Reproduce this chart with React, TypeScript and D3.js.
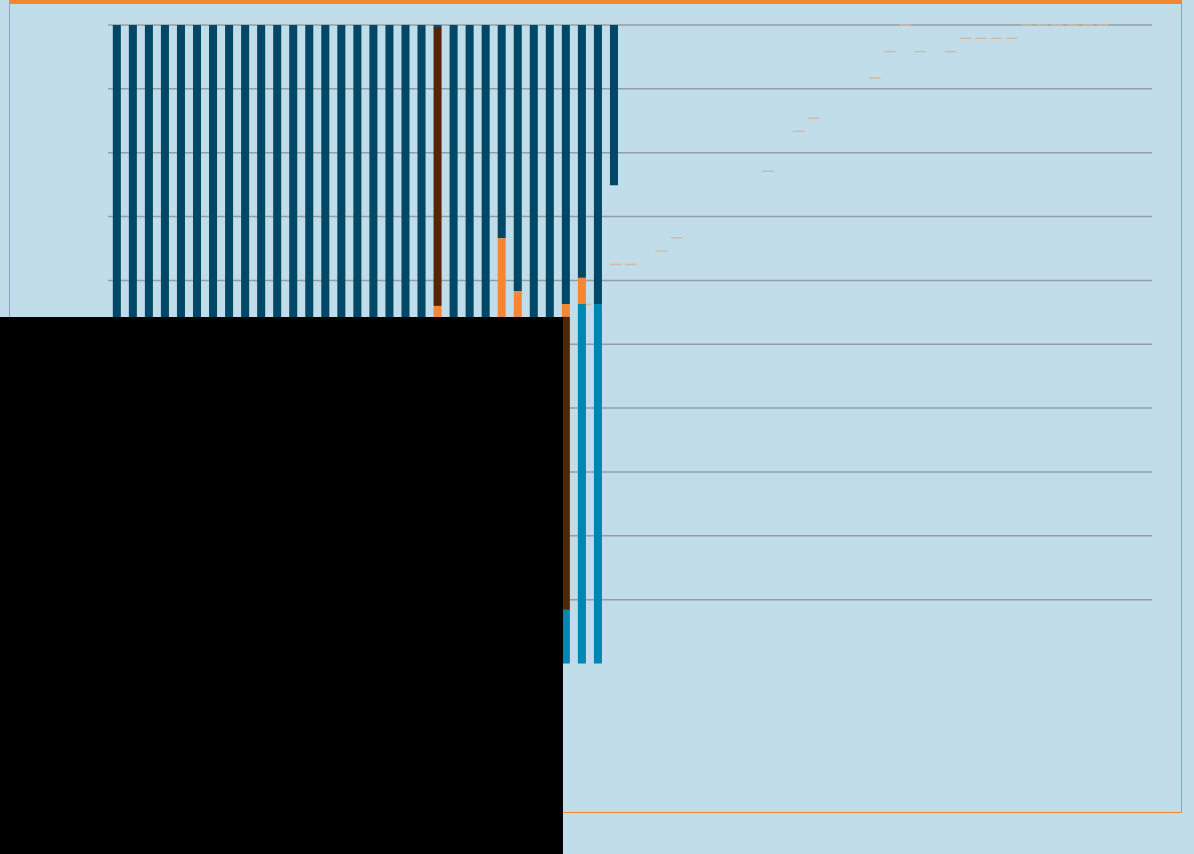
import * as d3 from "d3";

// bar categories (no labels are visible in the picture)
const categories = d3.range(1, 66).map(String);

// stacked shares (%), stacked downward from the top of the plot
const darkShare = [
  100, 100, 100, 100, 100, 100, 100, 100, 100, 100, 100, 100, 100, 100, 100, 100,
  100, 100, 100, 100, 0.3, 100, 100, 100, 33.4, 41.7, 100, 100, 43.7, 39.6, 43.7, 25.1,
];
const orangeShare = [
  0, 0, 0, 0, 0, 0, 0, 0, 0, 0, 0, 0, 0, 0, 0, 0,
  0, 0, 0, 0, 0, 0, 0, 0, 66.6, 58.3, 0, 0, 2.0, 4.1, 0, 0,
];
const brownShare = [
  0, 0, 0, 0, 0, 0, 0, 0, 0, 0, 0, 0, 0, 0, 0, 0,
  0, 0, 0, 0, 43.7, 0, 0, 0, 0, 0, 0, 0, 45.9, 0, 0, 0,
];
const lateShare = [
  0, 0, 0, 0, 0, 0, 0, 0, 0, 0, 0, 0, 0, 0, 0, 0,
  0, 0, 0, 0, 56.0, 0, 0, 0, 0, 0, 0, 0, 0, 0, 0, 0,
];
const blueShare = [
  0, 0, 0, 0, 0, 0, 0, 0, 0, 0, 0, 0, 0, 0, 0, 0,
  0, 0, 0, 0, 0, 0, 0, 0, 0, 0, 0, 0, 8.4, 56.3, 56.3, 0,
];

// remaining count (secondary axis), shown as dash markers; null = no marker
const remaining: (number | null)[] = [
  21, null, 18, 18, null, 17, 16, null, null, null, null, null, 11, null, 8, 7,
  null, null, null, 4, 2, 0, 2, null, 2, 1, 1, 1, 1, 0, 0, 0, 0, 0, 0,
];

const gridTicks = [0, 10, 20, 30, 40, 50, 60, 70, 80, 90];

const W = 1194;
const H = 854;
const plot = { left: 108, right: 1152, top: 25, bottom: 663.5 };

const C = {
  bg: "#c0dde9",
  frame: "#f58634",
  grid: "#929fa8",
  dark: "#004866",
  orange: "#f58634",
  brown: "#552606",
  blue: "#0085b6",
  dash: "#d4b8a0",
};

const seriesKeys = ["dark", "orange", "brown", "late", "blue"];
const seriesColor: Record<string, string> = {
  dark: C.dark,
  orange: C.orange,
  brown: C.brown,
  late: C.orange,
  blue: C.blue,
};

export default function App() {
  const rows = darkShare.map((_, i) => ({
    cat: categories[i],
    dark: darkShare[i],
    orange: orangeShare[i],
    brown: brownShare[i],
    late: lateShare[i],
    blue: blueShare[i],
  }));
  const stacked = d3.stack<any>().keys(seriesKeys)(rows);

  const x = d3
    .scaleBand<string>()
    .domain(categories)
    .range([plot.left, plot.right])
    .paddingInner(0.5)
    .paddingOuter(0.3);

  // reversed axis: 0 at the top
  const y = d3.scaleLinear().domain([0, 100]).range([plot.top, plot.bottom]);
  const y2 = d3.scaleLinear().domain([0, 48]).range([plot.top, plot.bottom]);
  const x2 = d3
    .scalePoint<number>()
    .domain(d3.range(remaining.length))
    .range([585.4, 1103]);

  const dashHalf = 5.8;

  return (
    <div style={{ position: "fixed", inset: 0, background: C.bg }}>
      <svg width={W} height={H} style={{ display: "block" }}>
        <rect x={0} y={0} width={W} height={H} fill={C.bg} />
        <rect
          x={9.5}
          y={0.5}
          width={1172}
          height={812}
          fill="none"
          stroke={C.frame}
          strokeWidth={1.3}
          shapeRendering="crispEdges"
        />
        <rect x={9} y={0} width={1173} height={4} fill={C.frame} />

        <g>
          {gridTicks.map((t) => (
            <line
              key={t}
              x1={plot.left}
              x2={plot.right}
              y1={y(t)}
              y2={y(t)}
              stroke={C.grid}
              strokeWidth={1.5}
            />
          ))}
        </g>

        <g>
          {remaining.map((v, i) =>
            v == null ? null : (
              <line
                key={i}
                x1={x2(i)! - dashHalf}
                x2={x2(i)! + dashHalf}
                y1={y2(v)}
                y2={y2(v)}
                stroke={C.dash}
                strokeWidth={1.4}
              />
            )
          )}
        </g>

        <g>
          {stacked.map((s) => (
            <g key={s.key} fill={seriesColor[s.key]}>
              {s.map((d, i) =>
                d[1] - d[0] <= 0 ? null : (
                  <rect
                    key={i}
                    x={x(d.data.cat)}
                    y={y(d[0])}
                    width={x.bandwidth()}
                    height={y(d[1]) - y(d[0])}
                  />
                )
              )}
            </g>
          ))}
        </g>

        <rect x={0} y={317} width={563} height={H - 317} fill="#000" />
      </svg>
    </div>
  );
}
